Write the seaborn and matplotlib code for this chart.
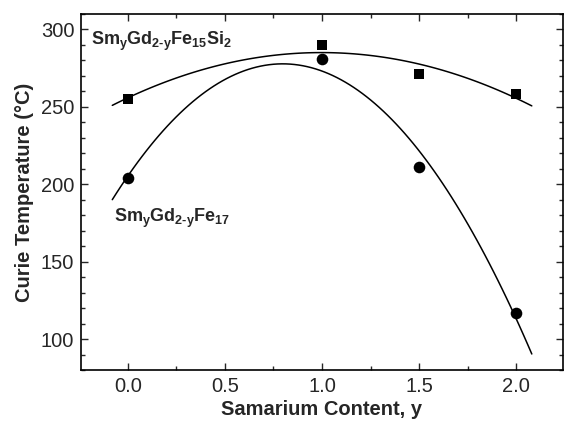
import numpy as np
import pandas as pd
import matplotlib
matplotlib.use("Agg")
import matplotlib.pyplot as plt
from matplotlib.ticker import MultipleLocator
import seaborn as sns

# data
sm_content = [0.0, 1.0, 1.5, 2.0]
tc_si2 = [255, 290, 271, 258]      # SmyGd2-yFe15Si2 (squares)
tc_fe17 = [204, 281, 211, 117]     # SmyGd2-yFe17 (circles)

sns.set_style("ticks")
plt.rcParams['font.family'] = ['Liberation Sans', 'DejaVu Sans']
plt.rcParams['mathtext.fontset'] = 'custom'
plt.rcParams['mathtext.rm'] = 'Liberation Sans:bold'
plt.rcParams['mathtext.it'] = 'Liberation Sans:bold'
plt.rcParams['mathtext.bf'] = 'Liberation Sans:bold'

df = pd.DataFrame({'y': sm_content, 'si2': tc_si2, 'fe17': tc_fe17})

fig = plt.figure(figsize=(5.64, 4.22), dpi=100)
ax = fig.add_axes([0.144, 0.123, 0.854, 0.844])
ax.set_xlim(-0.08, 2.08)

line_kws = {'color': 'black', 'lw': 1.1}
sns.regplot(data=df, x='y', y='si2', order=2, ci=None, truncate=False, ax=ax,
            marker='s', color='black',
            scatter_kws={'s': 60, 'zorder': 3, 'alpha': 1, 'linewidths': 0},
            line_kws=line_kws)
sns.regplot(data=df, x='y', y='fe17', order=2, ci=None, truncate=False, ax=ax,
            marker='o', color='black',
            scatter_kws={'s': 70, 'zorder': 3, 'alpha': 1, 'linewidths': 0},
            line_kws=line_kws)

ax.set_xlim(-0.24, 2.24)
ax.set_ylim(80, 310)
ax.xaxis.set_major_locator(MultipleLocator(0.5))
ax.xaxis.set_minor_locator(MultipleLocator(0.25))
ax.yaxis.set_major_locator(MultipleLocator(50))
ax.yaxis.set_minor_locator(MultipleLocator(10))
ax.xaxis.set_major_formatter(matplotlib.ticker.FormatStrFormatter('%.1f'))
ax.tick_params(which='both', direction='in', top=True, right=True,
               labelsize=14.5, width=1)
ax.tick_params(which='major', length=5, pad=5)
ax.tick_params(which='minor', length=3)
for sp in ax.spines.values():
    sp.set_linewidth(1.2)
    sp.set_color('black')

ax.set_xlabel('Samarium Content, y', fontsize=14.5, fontweight='bold', labelpad=3)
ax.set_ylabel('Curie Temperature (\u00b0C)', fontsize=14.5, fontweight='bold', labelpad=5)

ax.text(-0.19, 292, r'$\mathrm{Sm_{y}Gd_{2\text{-}y}Fe_{15}Si_{2}}$', fontsize=13,
        va='center', ha='left')
ax.text(-0.07, 178, r'$\mathrm{Sm_{y}Gd_{2\text{-}y}Fe_{17}}$', fontsize=13,
        va='center', ha='left')

fig.savefig('out.png', dpi=100)
